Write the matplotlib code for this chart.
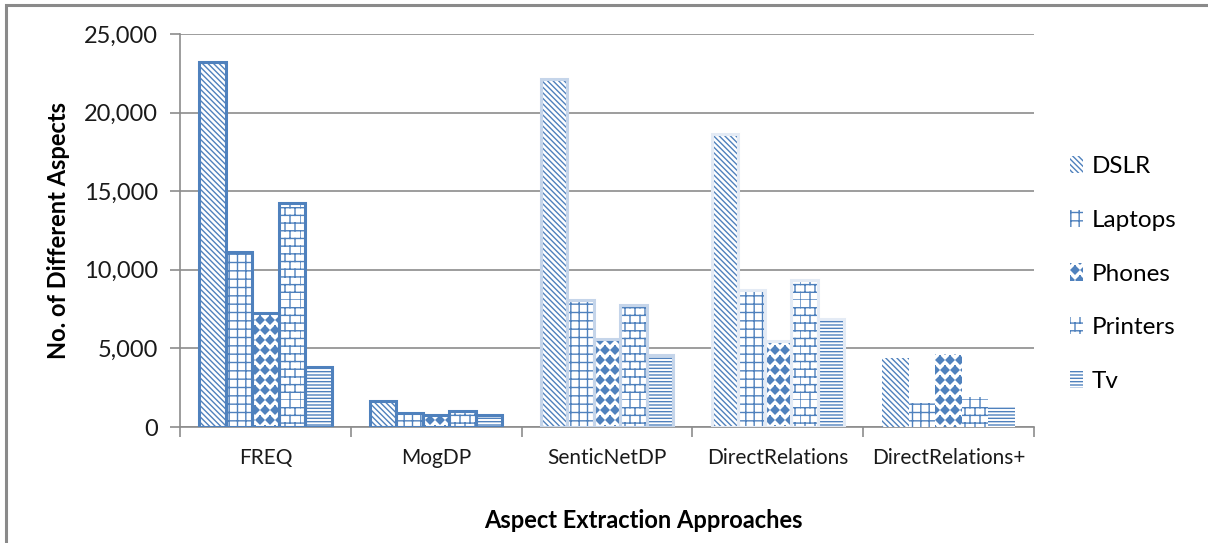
import warnings
import numpy as np
import matplotlib
matplotlib.use("Agg")
import matplotlib.pyplot as plt
import matplotlib.hatch as mhatch
from matplotlib.path import Path
from matplotlib.patches import Rectangle
from matplotlib.ticker import FuncFormatter, MultipleLocator

warnings.filterwarnings("ignore", category=matplotlib.MatplotlibDeprecationWarning)

approaches = ["FREQ", "MogDP", "SenticNetDP", "DirectRelations", "DirectRelations+"]
domains = ["DSLR", "Laptops", "Phones", "Printers", "Tv"]

dslr = [23200, 1650, 22150, 18650, 4400]
laptops = [11150, 900, 8100, 8700, 1550]
phones = [7250, 750, 5600, 5450, 4650]
printers = [14250, 1000, 7750, 9350, 1900]
tv = [3800, 750, 4600, 6850, 1350]
series = [dslr, laptops, phones, printers, tv]


# extra hatch patterns: 'b' = brick wall, 'd' = staggered filled diamonds
class BrickHatch(mhatch.HatchPatternBase):
    def __init__(self, hatch, density):
        self.rows = hatch.count("b") * 13
        self.cols = hatch.count("b") * 10
        self.num_vertices = (self.rows + self.rows * self.cols) * 2

    def set_vertices_and_codes(self, vertices, codes):
        ys = np.linspace(0.0, 1.0, self.rows, endpoint=False)
        h = 1.0 / self.rows
        w = 1.0 / self.cols
        n = self.rows
        vertices[0:2 * n:2] = np.column_stack([np.zeros(n), ys])
        vertices[1:2 * n:2] = np.column_stack([np.ones(n), ys])
        k = 2 * n
        for i, y in enumerate(ys):
            shift = 0.5 * w if i % 2 else 0.0
            for j in range(self.cols):
                x = j * w + shift
                vertices[k] = (x, y)
                vertices[k + 1] = (x, y + h)
                k += 2
        codes[0::2] = Path.MOVETO
        codes[1::2] = Path.LINETO


class DiamondHatch(mhatch.Shapes):
    size = 0.4
    filled = True

    def __init__(self, hatch, density):
        self.num_rows = hatch.count("d") * 10
        path = Path.unit_regular_polygon(4)
        self.shape_vertices = path.vertices
        self.shape_codes = np.full(len(self.shape_vertices), Path.LINETO,
                                   dtype=Path.code_type)
        self.shape_codes[0] = Path.MOVETO
        super().__init__(hatch, density)


mhatch._hatch_types.extend([BrickHatch, DiamondHatch])

hatches = ["\\\\\\\\\\\\", "++", "d", "b", "-----"]
blue = "#4F81BD"
# outline colour of the bars in each approach group (None = no outline)
outline = [blue, blue, "#C5D5EA", "#E4EBF5", None]

plt.rcParams["font.family"] = ["Lato", "DejaVu Sans"]
plt.rcParams["hatch.linewidth"] = 1.0

fig = plt.figure(figsize=(12.08, 5.43), dpi=100)
ax = fig.add_axes([180 / 1208, 1 - 427 / 543, (1034 - 180) / 1208, (427 - 34) / 543])

x = np.arange(len(approaches))
width = 0.155
offsets = (np.arange(len(domains)) - 2) * width

for s, (vals, hatch, name) in enumerate(zip(series, hatches, domains)):
    pos = x + offsets[s]
    ax.bar(pos, vals, width, color="white", edgecolor=blue, hatch=hatch,
           linewidth=0, label=name, zorder=3)
    for i, v in enumerate(vals):
        if outline[i] is not None:
            ax.bar(pos[i], v, width, fill=False, edgecolor=outline[i],
                   linewidth=2.2, zorder=4)

ax.set_xlim(-0.5, len(approaches) - 0.5)
ax.set_ylim(0, 25000)
ax.yaxis.set_major_locator(MultipleLocator(5000))
ax.yaxis.set_major_formatter(FuncFormatter(lambda v, p: f"{int(v):,}"))
ax.grid(axis="y", color="#8C8C8C", linewidth=1.2, zorder=0)

ax.set_xticks(x)
ax.set_xticklabels(approaches)
ax.set_xticks(np.arange(-0.5, len(approaches)), minor=True)
ax.tick_params(axis="x", which="major", length=0, pad=15, labelsize=15, labelcolor="#1A1A1A")
ax.tick_params(axis="x", which="minor", length=7, width=1.2, color="#8C8C8C")
ax.tick_params(axis="y", length=7, width=1.2, color="#8C8C8C", pad=9, labelsize=17,
               labelcolor="#1A1A1A")

for side in ["top", "right"]:
    ax.spines[side].set_visible(False)
for side in ["left", "bottom"]:
    ax.spines[side].set_color("#8C8C8C")
    ax.spines[side].set_linewidth(1.2)

ax.set_ylabel("No. of Different Aspects", fontsize=17, fontweight="bold", labelpad=10)
fig.text(643 / 1208, 1 - 521 / 543, "Aspect Extraction Approaches", ha="center",
         va="center", fontsize=17, fontweight="bold")

leg = fig.legend(loc="center left", bbox_to_anchor=(1060 / 1208, 1 - 274 / 543),
                 frameon=False, fontsize=17.5, handlelength=0.55, handleheight=0.7,
                 handletextpad=0.35, labelspacing=1.35, borderaxespad=0)

# outer chart border
fig.add_artist(Rectangle((6 / 1208, -0.1), 1.2, 1.1 - 5 / 543,
                         transform=fig.transFigure, fill=False,
                         edgecolor="#8A8A8A", linewidth=2.2))

fig.savefig("out.png", dpi=100)
